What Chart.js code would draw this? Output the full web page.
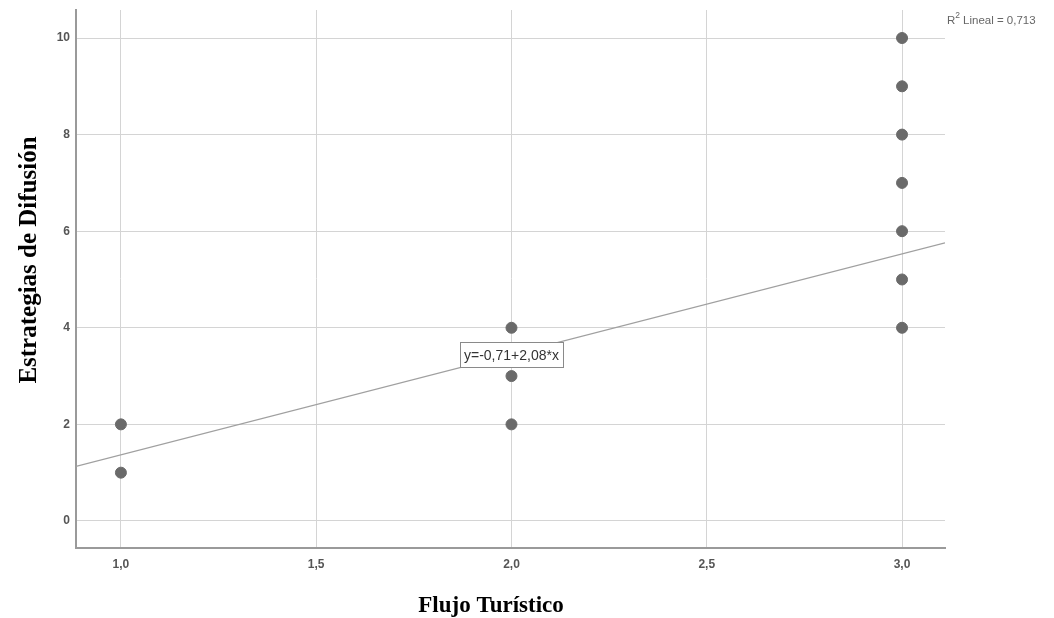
<!DOCTYPE html>
<html>
<head>
<meta charset="utf-8">
<script src="https://cdn.jsdelivr.net/npm/chart.js@4.4.6/dist/chart.umd.min.js"></script>
<style>
  html,body{margin:0;padding:0;background:#fff;}
  #wrap{width:1054px;height:618px;position:relative;}
</style>
</head>
<body>
<div id="wrap"><canvas id="c"></canvas></div>
<script>
// Scatter of Flujo Turístico vs Estrategias de Difusión, with linear fit.
const flujo      = [1, 1, 2, 2, 2, 3, 3, 3, 3, 3, 3, 3];
const estrategia = [1, 2, 2, 3, 4, 4, 5, 6, 7, 8, 9, 10];
const xTicks = [1.0, 1.5, 2.0, 2.5, 3.0];
const yTicks = [0, 2, 4, 6, 8, 10];
const fitIntercept = -0.71;
const fitSlope = 2.08;
const r2 = '0,713';
const xTitle = 'Flujo Turístico';
const yTitle = 'Estrategias de Difusión';

const X_MIN = 0.885, X_MAX = 3.11, Y_MIN = -0.56, Y_MAX = 10.58;

const points = flujo.map((x,i)=>({x, y: estrategia[i]}));
const fitLine = [X_MIN, X_MAX].map(x=>({x, y: fitIntercept + fitSlope*x}));

const comma = v => String(v).replace('.', ',');

const annot = {
  id: 'annot',
  afterDatasetsDraw(chart){
    const {ctx, scales:{x, y}, chartArea} = chart;
    ctx.save();
    // equation box
    const eq = 'y=' + comma(fitIntercept.toFixed(2)) + '+' + comma(fitSlope.toFixed(2)) + '*x';
    ctx.font = '14px "Liberation Sans", Arial, sans-serif';
    const tw = ctx.measureText(eq).width;
    const cx = x.getPixelForValue(2.0), cy = y.getPixelForValue(3.44);
    const bw = tw + 8, bh = 25;
    ctx.fillStyle = '#fff';
    ctx.fillRect(cx - bw/2, cy - bh/2, bw, bh);
    ctx.strokeStyle = '#8a8a8a';
    ctx.lineWidth = 1;
    ctx.strokeRect(Math.round(cx - bw/2)+0.5, Math.round(cy - bh/2)+0.5, Math.round(bw), bh);
    ctx.fillStyle = '#333';
    ctx.textAlign = 'center';
    ctx.textBaseline = 'middle';
    ctx.fillText(eq, cx, cy + 1);

    // R2 label
    ctx.textAlign = 'left';
    ctx.fillStyle = '#666';
    ctx.font = '11.5px "Liberation Sans", Arial, sans-serif';
    let lx = chartArea.right + 2;
    ctx.fillText('R', lx, 21);
    lx += ctx.measureText('R').width;
    ctx.font = '8.5px "Liberation Sans", Arial, sans-serif';
    ctx.fillText('2', lx, 16);
    lx += ctx.measureText('2').width + 3;
    ctx.font = '11.5px "Liberation Sans", Arial, sans-serif';
    ctx.fillText('Lineal = ' + r2, lx, 21);

    // axis titles
    ctx.fillStyle = '#000';
    ctx.font = 'bold 23px "Liberation Serif", "Times New Roman", serif';
    ctx.textAlign = 'center';
    ctx.fillText(xTitle, 491, 606);
    ctx.translate(30, 260);
    ctx.rotate(-Math.PI/2);
    ctx.font = 'bold 25px "Liberation Serif", "Times New Roman", serif';
    ctx.fillText(yTitle, 0, 0);
    ctx.restore();
  }
};

new Chart(document.getElementById('c'), {
  type: 'scatter',
  data: {
    datasets: [
      {
        type: 'line',
        data: fitLine,
        borderColor: '#a0a0a0',
        borderWidth: 1.2,
        pointRadius: 0,
        fill: false
      },
      {
        data: points,
        backgroundColor: '#6a6a6a',
        borderColor: '#6a6a6a',
        pointRadius: 5.5,
        pointHoverRadius: 5.5
      }
    ]
  },
  options: {
    responsive: true,
    maintainAspectRatio: false,
    animation: false,
    layout: { padding: { left: 0, right: 109, top: 10, bottom: 0 } },
    plugins: { legend: { display: false }, tooltip: { enabled: false } },
    scales: {
      x: {
        type: 'linear',
        min: X_MIN, max: X_MAX,
        afterBuildTicks: s => { s.ticks = xTicks.map(v=>({value:v})); },
        afterFit: s => { s.height = 70; s.paddingLeft = 0; s.paddingRight = 0; },
        border: { color: '#9a9a9a', width: 2 },
        grid: { color: '#d4d4d4', lineWidth: 1, drawTicks: false },
        ticks: {
          padding: 9,
          color: '#555',
          font: { family: '"Liberation Sans", Arial, sans-serif', size: 12, weight: 'bold' },
          callback: v => comma(Number(v).toFixed(1))
        }
      },
      y: {
        type: 'linear',
        min: Y_MIN, max: Y_MAX,
        afterBuildTicks: s => { s.ticks = yTicks.map(v=>({value:v})); },
        afterFit: s => { s.width = 76; s.paddingTop = 0; s.paddingBottom = 0; },
        border: { color: '#9a9a9a', width: 2 },
        grid: { color: '#d4d4d4', lineWidth: 1, drawTicks: false },
        ticks: {
          padding: 6,
          color: '#555',
          font: { family: '"Liberation Sans", Arial, sans-serif', size: 12, weight: 'bold' },
          callback: v => String(v)
        }
      }
    }
  },
  plugins: [annot]
});
</script>
</body>
</html>
